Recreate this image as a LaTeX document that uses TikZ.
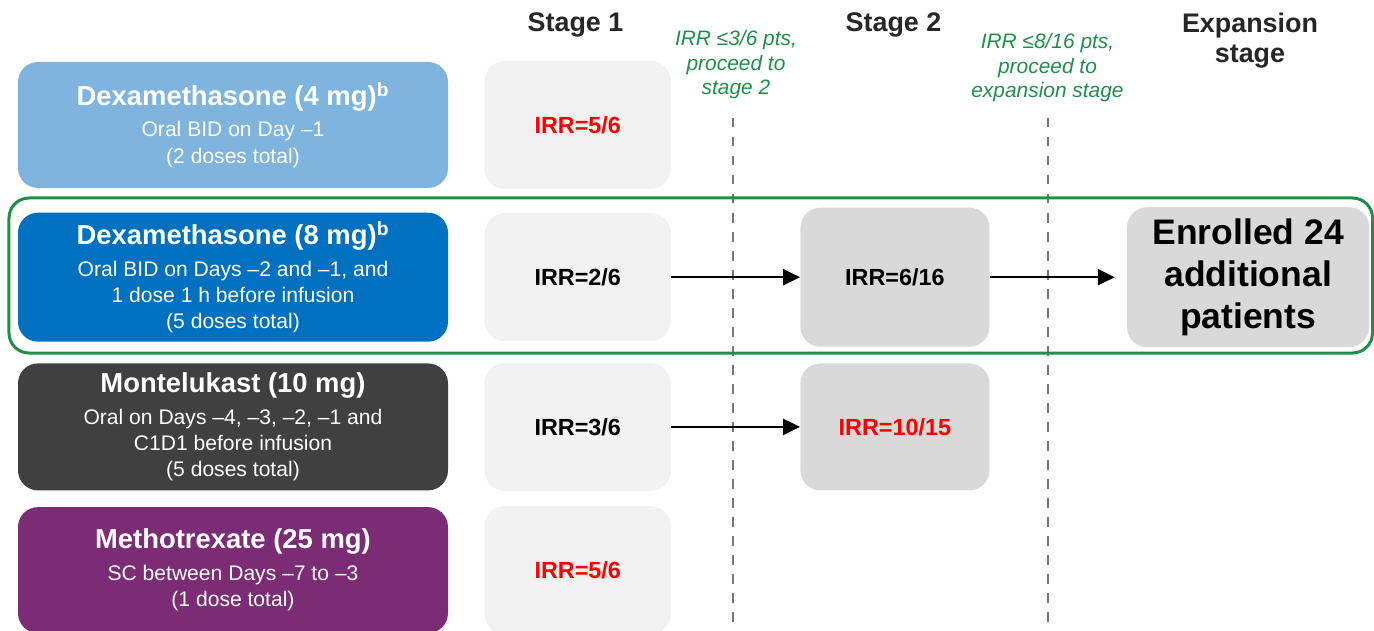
\documentclass[tikz,border=0pt]{standalone}
\usepackage{fontspec}
\setmainfont{Liberation Sans}
\usepackage{tikz}
\usetikzlibrary{positioning, arrows.meta}
\definecolor{dexlight}{HTML}{7EB4DD}
\definecolor{dexdark}{HTML}{0070C0}
\definecolor{montgray}{HTML}{404040}
\definecolor{methpurple}{HTML}{7B2C75}
\definecolor{stagelight}{HTML}{F2F2F2}
\definecolor{stagemid}{HTML}{D9D9D9}
\definecolor{irrred}{HTML}{FF0000}
\definecolor{rulegreen}{HTML}{1F8F4A}
\definecolor{headgray}{HTML}{262626}
\definecolor{dashgray}{HTML}{777777}
\newcommand{\Drug}[1]{{\fontsize{15.6}{18}\selectfont\bfseries #1}}
\tikzset{
    premed/.style={rectangle, rounded corners=0.4cm, minimum width=8.6cm, inner sep=0pt,
      text=white, align=center, font=\fontsize{12}{15}\selectfont},
    stagebox/.style={rectangle, rounded corners=0.4cm, inner sep=0pt, align=center,
      font=\fontsize{13.3}{16}\selectfont\bfseries},
    stageone/.style={stagebox, fill=stagelight, minimum width=3.72cm, minimum height=2.56cm},
    stagetwo/.style={stagebox, fill=stagemid, minimum width=3.78cm, minimum height=2.54cm},
    expand/.style={stagebox, fill=stagemid, minimum width=4.84cm, minimum height=2.8cm,
      font=\fontsize{20.2}{23.8}\selectfont\bfseries},
    head/.style={inner sep=0pt, anchor=base, align=center, text=headgray,
      font=\fontsize{15.3}{17.6}\selectfont\bfseries},
    rulenote/.style={inner sep=0pt, anchor=base, align=center, text=rulegreen,
      font=\fontsize{11.9}{14.2}\selectfont\itshape},
    divider/.style={draw=dashgray, line width=0.055cm, dash pattern=on 0.19cm off 0.19cm},
    chosen/.style={draw=rulegreen, line width=0.06cm, rounded corners=0.4cm},
    flow/.style={-{Triangle[length=0.34cm, width=0.32cm]}, line width=0.05cm},
}
\begin{document}
\begin{tikzpicture}
    \useasboundingbox (0,0) rectangle (27.48,-12.62);

    % stage dividers
    \coordinate (d1top) at (14.66,-2.36);
    \coordinate (d1bot) at (14.66,-12.62);
    \coordinate (d2top) at (20.96,-2.36);
    \coordinate (d2bot) at (20.96,-12.62);
    \draw[divider] (d1top) -- (d1bot);
    \draw[divider] (d2top) -- (d2bot);

    % selected regimen
    \draw[chosen] (0.18,-3.96) rectangle (27.45,-7.06);

    % premedication arms
    \node[premed, fill=dexlight, minimum height=2.52cm] (dex4) at (4.66,-2.5)
      {\Drug{Dexamethasone (4 mg)\textsuperscript{b}}\\[3pt] Oral BID on Day –1\\ (2 doses total)};
    \node[premed, fill=dexdark, minimum height=2.58cm, below=0.48cm of dex4] (dex8)
      {\Drug{Dexamethasone (8 mg)\textsuperscript{b}}\\[3pt] Oral BID on Days –2 and –1, and\\ 1 dose 1 h before infusion\\ (5 doses total)};
    \node[premed, fill=montgray, minimum height=2.54cm, below=0.42cm of dex8] (mont)
      {\Drug{Montelukast (10 mg)}\\[3pt] Oral on Days –4, –3, –2, –1 and\\ C1D1 before infusion\\ (5 doses total)};
    \node[premed, fill=methpurple, minimum height=2.52cm, below=0.32cm of mont] (meth)
      {\Drug{Methotrexate (25 mg)}\\[3pt] SC between Days –7 to –3\\ (1 dose total)};

    % stage 1
    \node[stageone, text=irrred, right=0.72cm of dex4] (s1dex4) {IRR=5/6};
    \node[stageone, right=0.72cm of dex8] (s1dex8) {IRR=2/6};
    \node[stageone, right=0.72cm of mont] (s1mont) {IRR=3/6};
    \node[stageone, text=irrred, right=0.72cm of meth] (s1meth) {IRR=5/6};

    % stage 2 and expansion
    \node[stagetwo, minimum height=2.78cm, right=2.58cm of s1dex8] (s2dex8) {IRR=6/16};
    \node[stagetwo, text=irrred, right=2.58cm of s1mont] (s2mont) {IRR=10/15};
    \node[expand, right=2.74cm of s2dex8] (exp) {Enrolled 24\\ additional\\ patients};

    \draw[flow] (s1dex8) -- (s2dex8);
    \draw[flow, shorten >=0.24cm] (s2dex8) -- (exp);
    \draw[flow] (s1mont) -- (s2mont);

    % headings
    \node[head] (h1) at (11.51,-0.64) {Stage 1};
    \node[head] (h2) at (17.87,-0.64) {Stage 2};
    \node[head] (h3) at (25.0,-1.26) {Expansion\\ stage};

    \node[rulenote] (r1) at (14.72,-1.90) {IRR ≤3/6 pts,\\ proceed to\\ stage 2};
    \node[rulenote] (r2) at (20.95,-1.96) {IRR ≤8/16 pts,\\ proceed to\\ expansion stage};
  \end{tikzpicture}
\end{document}
